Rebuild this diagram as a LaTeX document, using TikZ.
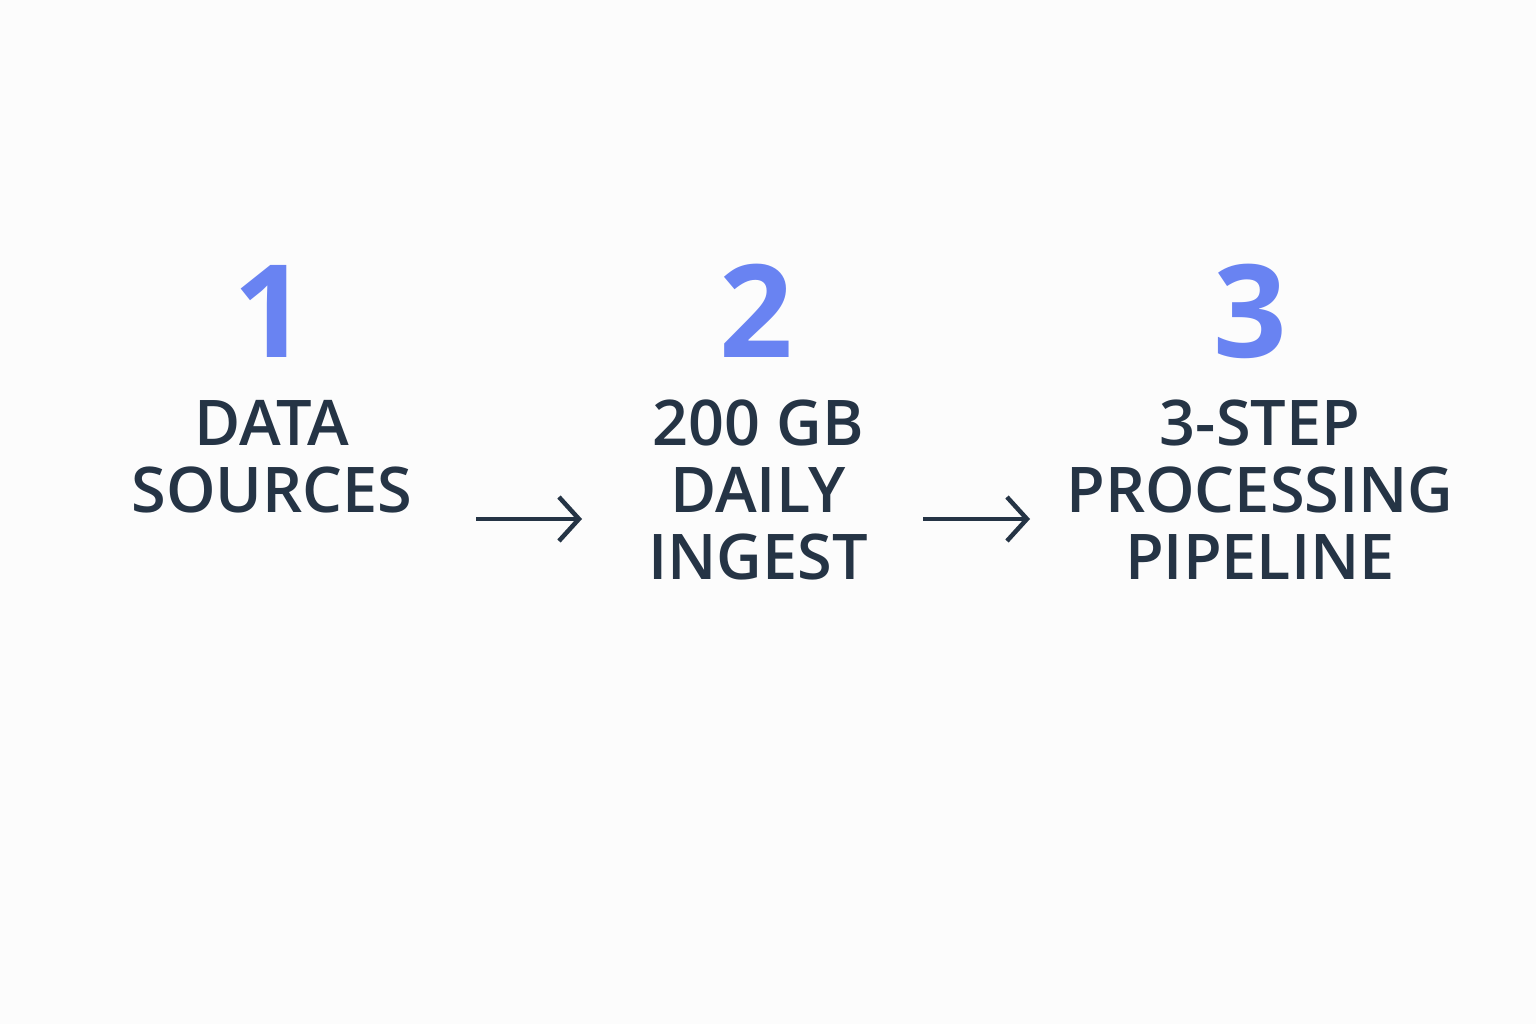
\documentclass[tikz,border=0pt]{standalone}
\usepackage{fontspec}
\setmainfont{Open Sans}
\newfontfamily\semib{Open Sans}[UprightFont={* Semibold}]
\newfontfamily\boldf{Open Sans}[UprightFont={* Bold}]
\usetikzlibrary{arrows.meta}
\definecolor{numblue}{HTML}{6983F2}
\definecolor{inkdark}{HTML}{253445}
\begin{document}
\begin{tikzpicture}[x=1pt,y=-1pt,
  num/.style={anchor=base,text=numblue,font=\fontsize{129}{129}\selectfont\boldf,inner sep=0pt},
  lbl/.style={anchor=base,text=inkdark,font=\fontsize{63}{63}\selectfont\semib,inner sep=0pt},
  conn/.style={draw=inkdark,line width=4.5pt,-{Straight Barb[length=20pt,width=44pt,line width=4.5pt]}}]
\fill[white!99!black] (0,0) rectangle (1536,1024);
\useasboundingbox (0,0) rectangle (1536,1024);
\node[num] (n1) at (270,357) {1};
\node[num] (n2) at (756,357) {2};
\node[num] (n3) at (1250,357) {3};
\node[lbl] (a1) at (272,445) {DATA};
\node[lbl] (a2) at (272,512) {SOURCES};
\node[lbl] (b1) at (758,445) {200 GB};
\node[lbl] (b2) at (758,512) {DAILY};
\node[lbl] (b3) at (758,579) {INGEST};
\node[lbl] (c1) at (1260,445) {3-STEP};
\node[lbl] (c2) at (1260,512) {PROCESSING};
\node[lbl] (c3) at (1260,579) {PIPELINE};
\coordinate (s1) at (476,519);
\coordinate (e1) at (582,519);
\coordinate (s2) at (923,519);
\coordinate (e2) at (1030,519);
\draw[conn] (s1) -- (e1);
\draw[conn] (s2) -- (e2);
\end{tikzpicture}
\end{document}
